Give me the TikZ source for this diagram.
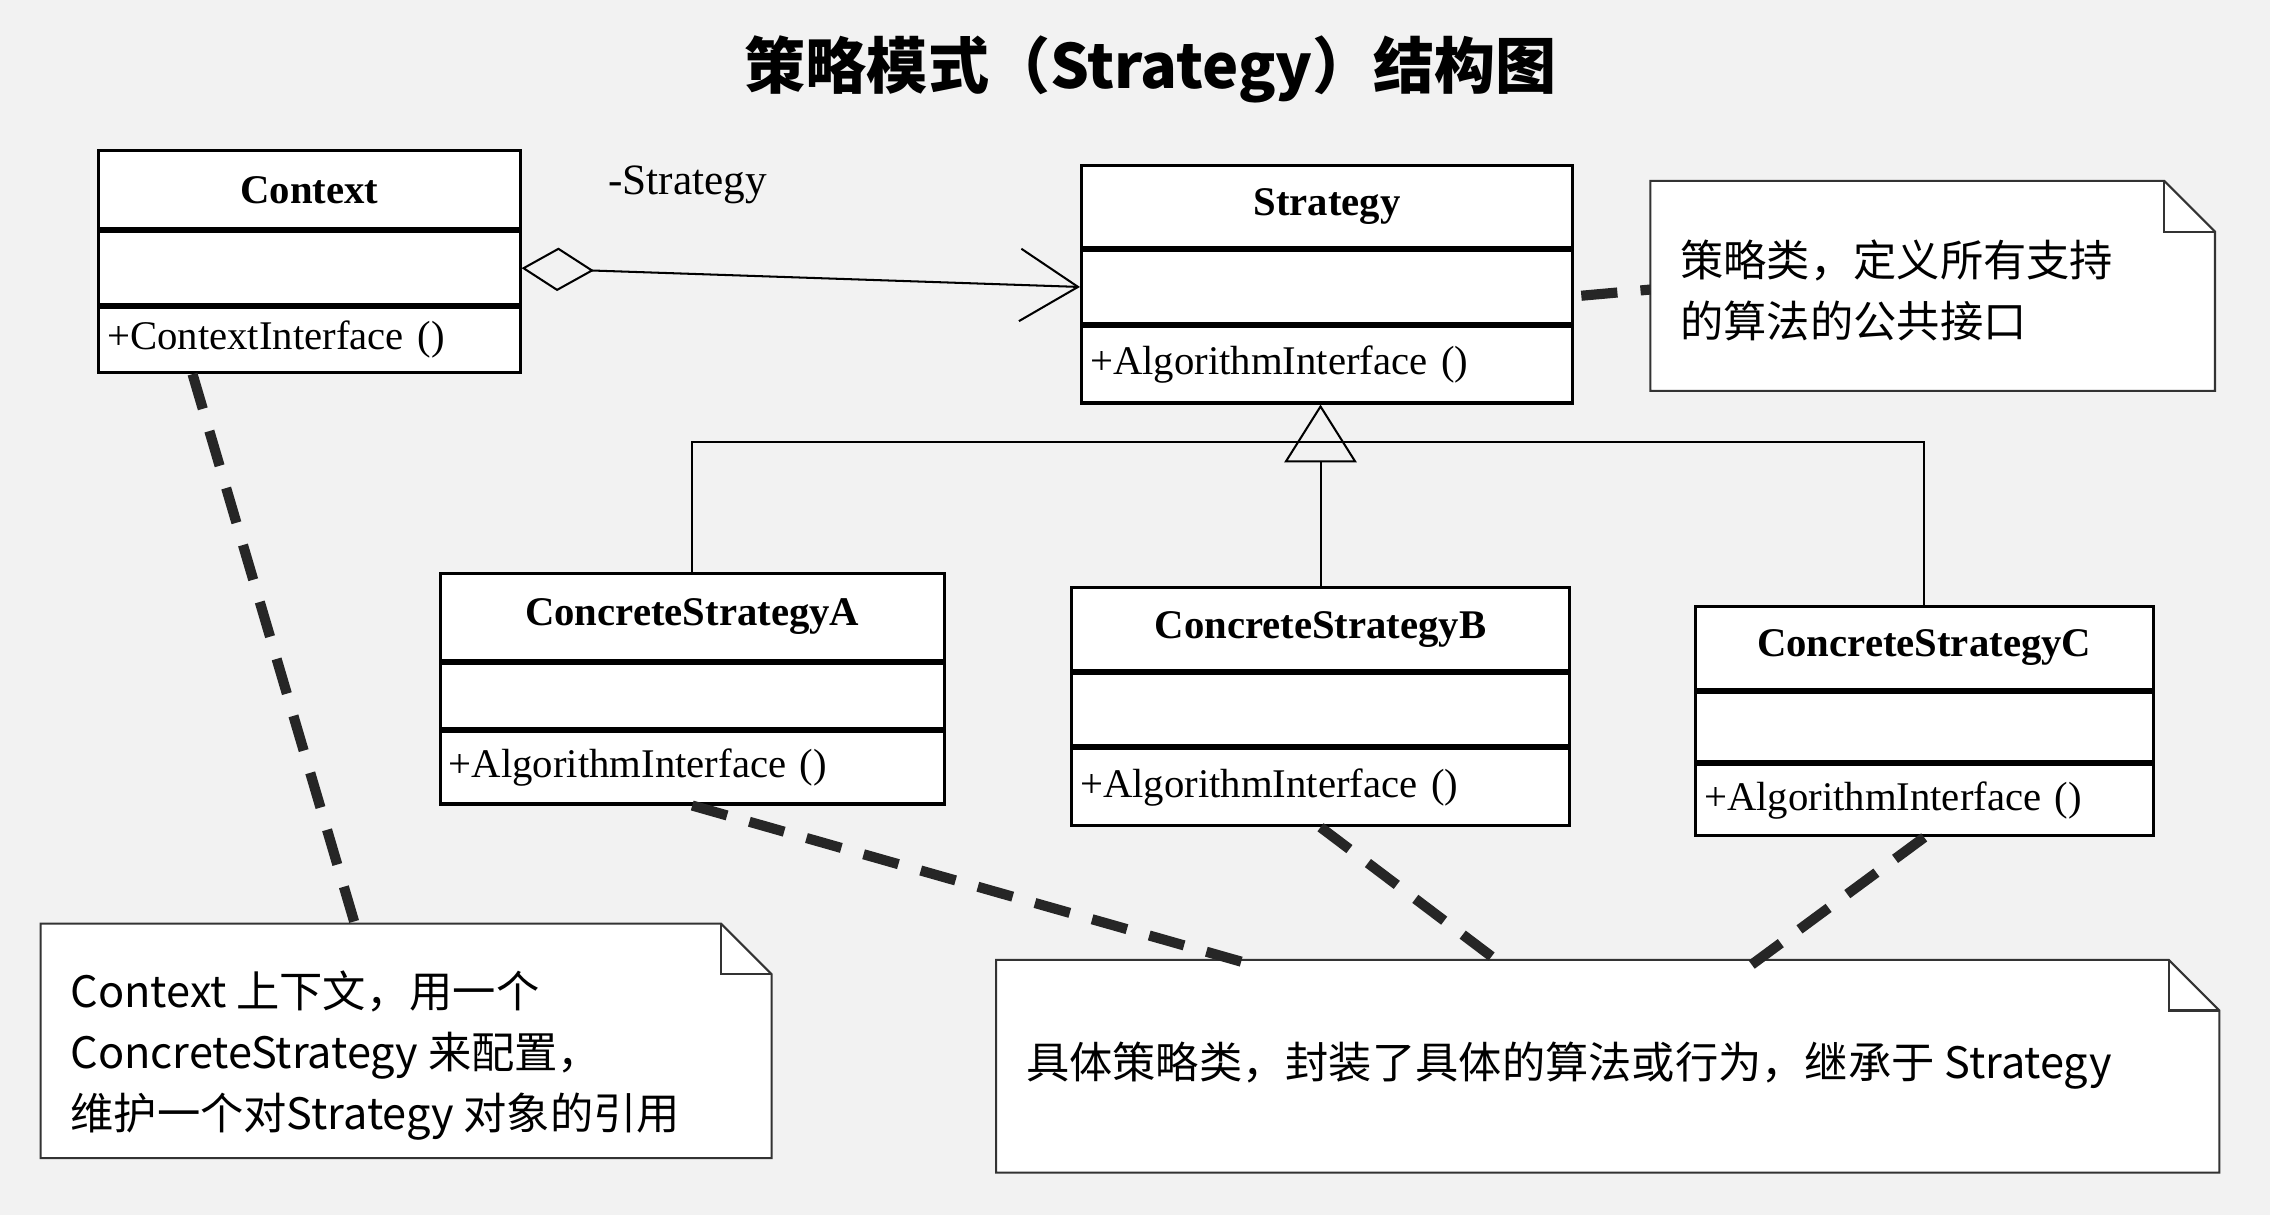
\documentclass[tikz,border=0pt]{standalone}
\usepackage{fontspec}
\setmainfont{Liberation Serif}
\newfontfamily\cjk{Noto Sans CJK SC}
\usetikzlibrary{positioning,arrows.meta}
\begin{document}
\begin{tikzpicture}
[
 x=0.01cm, y=-0.01cm,
 inner sep=1mm,
 clsT/.style={rectangle, draw=black, semithick, fill=white, font=\bfseries\fontsize{8}{10}\selectfont, anchor=north west},
 clsA/.style={rectangle, draw=black, semithick, fill=white, minimum height=0.5cm},
 clsM/.style={rectangle, draw=black, semithick, fill=white, font=\fontsize{8}{10}\selectfont, text width=#1, align=left, inner sep=0.6mm},
 note/.style={draw=black!80, thin},
 dashlink/.style={draw=black!85, line width=0.7mm, dash pattern=on 2.5mm off 1.6mm},
 inherit/.style={draw=black, thin}
 ],
%
\useasboundingbox [fill=black!5] (0,0) rectangle (1568,839);
\node [font=\cjk\bfseries\fontsize{12}{14}\selectfont] (title) at (795,48) {策略模式（\textbf{Strategy}）结构图};
%
% classes
\node [clsT, minimum width=2.91cm, minimum height=0.54cm] (ctxT) at (67,103) {Context};
\node [clsA, minimum width=2.91cm, below=0 of ctxT] (ctxA) {};
\node [clsM={2.79cm}, below=0 of ctxA, minimum height=0.45cm] (ctxM) {+ContextInterface ()};
%
\node [clsT, minimum width=3.39cm, minimum height=0.57cm] (stT) at (746,113) {Strategy};
\node [clsA, minimum width=3.39cm, below=0 of stT] (stA) {};
\node [clsM={3.27cm}, below=0 of stA, minimum height=0.53cm] (stM) {+AlgorithmInterface ()};
%
\node [clsT, minimum width=3.48cm, minimum height=0.6cm] (caT) at (303,395) {ConcreteStrategyA};
\node [clsA, minimum width=3.48cm, below=0 of caT, minimum height=0.45cm] (caA) {};
\node [clsM={3.36cm}, below=0 of caA, minimum height=0.5cm] (caM) {+AlgorithmInterface ()};
%
\node [clsT, minimum width=3.44cm, minimum height=0.57cm] (cbT) at (739,405) {ConcreteStrategyB};
\node [clsA, minimum width=3.44cm, below=0 of cbT] (cbA) {};
\node [clsM={3.32cm}, below=0 of cbA, minimum height=0.53cm] (cbM) {+AlgorithmInterface ()};
%
\node [clsT, minimum width=3.16cm, minimum height=0.57cm] (ccT) at (1170,418) {ConcreteStrategyC};
\node [clsA, minimum width=3.16cm, below=0 of ccT, minimum height=0.48cm] (ccA) {};
\node [clsM={3.04cm}, below=0 of ccA, minimum height=0.49cm] (ccM) {+AlgorithmInterface ()};
%
% notes
\draw [note, fill=white] (1140,125) -- (1495,125) -- (1530,160) -- (1530,270) -- (1140,270) -- cycle;
\draw [note] (1495,125) -- (1495,160) -- (1530,160);
\node [anchor=north west, align=left, font=\cjk\fontsize{8.5}{12}\selectfont] (nSt) at (1150,155) {策略类，定义所有支持\\的算法的公共接口};
\coordinate (nStL) at (1140,200);
%
\draw [note, fill=white] (28,638) -- (498,638) -- (533,673) -- (533,800) -- (28,800) -- cycle;
\draw [note] (498,638) -- (498,673) -- (533,673);
\node [anchor=north west, align=left, font=\cjk\fontsize{8.5}{12}\selectfont] (nCtx) at (38,660) {Context 上下文，用一个\\ConcreteStrategy 来配置，\\维护一个对Strategy 对象的引用};
\coordinate (nCtxT) at (248,648);
%
\draw [note, fill=white] (688,663) -- (1498,663) -- (1533,698) -- (1533,810) -- (688,810) -- cycle;
\draw [note] (1498,663) -- (1498,698) -- (1533,698);
\node [anchor=west, font=\cjk\fontsize{8.5}{12}\selectfont] (nCS) at (698,736) {具体策略类，封装了具体的算法或行为，继承于 Strategy};
\coordinate (nCSa) at (860,665);
\coordinate (nCSb) at (1040,668);
\coordinate (nCSc) at (1205,670);
%
% aggregation
\draw [thin, {Diamond[open,length=5mm,width=3mm]}-{Straight Barb[length=4mm,width=5mm]}] (ctxA.east) -- (stA.west);
\node [font=\fontsize{8.5}{10}\selectfont] (agl) at (475,128) {-Strategy};
%
% inheritance
\coordinate (tri) at (915,305);
\draw [inherit, -{Triangle[open,length=4mm,width=5mm]}] (cbT.north) -- (cbT.north |- stM.south);
\draw [inherit] (caT.north) |- (tri) -| (ccT.north);
%
% dashed links
\draw [dashlink] (ctxM.south west) ++(66,0) -- (nCtxT);
\draw [dashlink] (stA.south east) ++(5,-20) -- (nStL);
\draw [dashlink] (caM.south) -- (nCSa);
\draw [dashlink] (cbM.south) -- (nCSb);
\draw [dashlink] (ccM.south) -- (nCSc);
%
\end{tikzpicture}
\end{document}
